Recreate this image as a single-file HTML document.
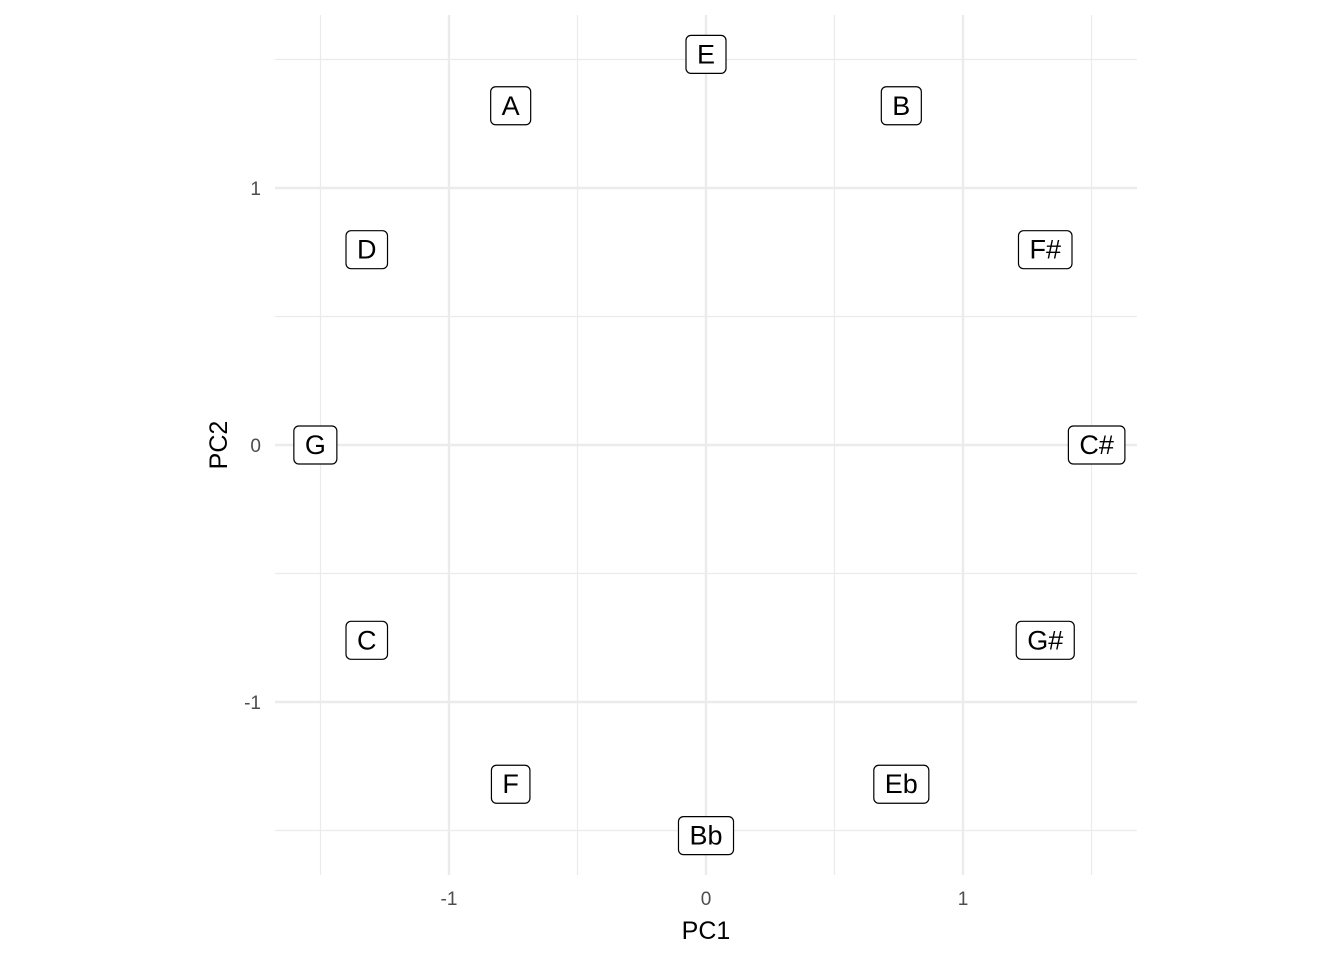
<!DOCTYPE html>
<html><head><meta charset="utf-8"><style>
html,body{margin:0;padding:0;background:#fff}
svg{display:block;font-family:"Liberation Sans",sans-serif}
</style></head><body>
<svg id="chart" width="1344" height="960">
<g id="grid"></g>
<g id="axes"></g>
<g id="labels"></g>
<text x="706" y="939" text-anchor="middle" font-size="25" fill="#000">PC1</text>
<text transform="translate(227,445) rotate(-90)" text-anchor="middle" font-size="25" fill="#000">PC2</text>
</svg>
<script>
const notes = ["E","B","F#","C#","G#","Eb","Bb","F","C","G","D","A"];
const pc1 = [0,0.76,1.32,1.52,1.32,0.76,0,-0.76,-1.32,-1.52,-1.32,-0.76];
const pc2 = [1.52,1.32,0.76,0,-0.76,-1.32,-1.52,-1.32,-0.76,0,0.76,1.32];
const majorTicks = [-1,0,1];
const tickLabels = ["-1","0","1"];
const minorTicks = [-1.5,-0.5,0.5,1.5];
const NS="http://www.w3.org/2000/svg";
const sx=v=>706+v*257, sy=v=>445-v*257;
const L=275,R=1137,T=15,B=875;
function mk(tag,attrs,parent){const e=document.createElementNS(NS,tag);for(const k in attrs)e.setAttribute(k,attrs[k]);parent.appendChild(e);return e;}
const grid=document.getElementById('grid'), axes=document.getElementById('axes'), labs=document.getElementById('labels');
minorTicks.forEach(v=>{
  let a=mk('line',{x1:sx(v),x2:sx(v),y1:T,y2:B,stroke:'#ebebeb','stroke-width':1.2},grid);
  
  
  let b=mk('line',{x1:L,x2:R,y1:sy(v),y2:sy(v),stroke:'#ebebeb','stroke-width':1.2},grid);
  
  
});
majorTicks.forEach((v,i)=>{
  let a=mk('line',{x1:sx(v),x2:sx(v),y1:T,y2:B,stroke:'#ebebeb','stroke-width':2.4},grid);
  
  
  let b=mk('line',{x1:L,x2:R,y1:sy(v),y2:sy(v),stroke:'#ebebeb','stroke-width':2.4},grid);
  
  
  let t=mk('text',{x:sx(v),y:905,'text-anchor':'middle','font-size':19,fill:'#4d4d4d'},axes);
  t.textContent=tickLabels[i];
  
  
  let u=mk('text',{x:261,y:sy(v)+7,'text-anchor':'end','font-size':19,fill:'#4d4d4d'},axes);
  u.textContent=tickLabels[i];
  
  
});
notes.forEach((n,i)=>{
  const g=mk('g',{},labs);
  
  
  const cx=sx(pc1[i]), cy=sy(pc2[i]);
  const r=mk('rect',{fill:'#fff',stroke:'#000','stroke-width':1.2,rx:5,ry:5},g);
  const t=mk('text',{x:cx,y:cy+9,'text-anchor':'middle','font-size':27,fill:'#000'},g);
  t.textContent=n;
  const w=t.getComputedTextLength()+22;
  r.setAttribute('x',cx-w/2);r.setAttribute('y',cy-19);r.setAttribute('width',w);r.setAttribute('height',38);
});
</script>
</body></html>
